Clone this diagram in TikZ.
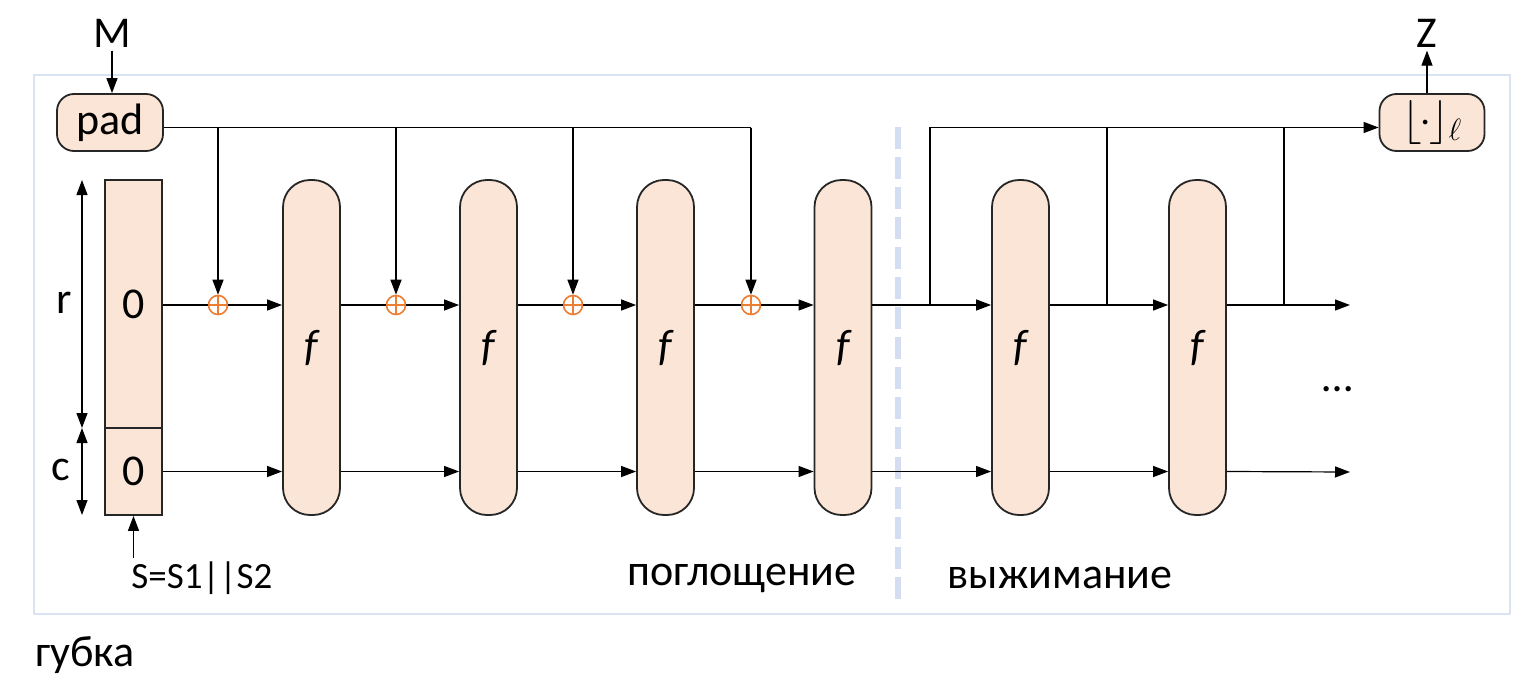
\RequirePackage{fix-cm}
\documentclass[tikz,border=0pt]{standalone}
\usepackage{fontspec}
\setmainfont{Carlito}
\usetikzlibrary{arrows.meta,calc}
\definecolor{fillc}{HTML}{FBE5D6}
\definecolor{framec}{HTML}{DAE3F3}
\definecolor{dashc}{HTML}{D5DDF0}
\definecolor{xorc}{HTML}{ED7D31}
\begin{document}
\begin{tikzpicture}[x=1pt,y=-1pt, font=\fontsize{44}{50}\selectfont,
  box/.style={draw=black!85, line width=1.8pt, fill=fillc},
  fbox/.style={box, rounded corners=27pt, minimum width=57pt, minimum height=335pt, inner sep=0pt, font=\fontsize{44}{50}\selectfont\itshape},
  smallbox/.style={box, rounded corners=17pt, minimum height=57pt, inner sep=0pt},
  arr/.style={-{Triangle[length=15pt,width=11pt]}, line width=1.2pt},
  dimarr/.style={{Triangle[length=15pt,width=11pt]}-{Triangle[length=15pt,width=11pt]}, line width=1.2pt},
  ln/.style={line width=1.2pt},
  xor/.style={circle, draw=xorc, line width=1.6pt, minimum size=19pt, inner sep=0pt,
    path picture={\draw[xorc, line width=1.1pt] (path picture bounding box.north) -- (path picture bounding box.south) (path picture bounding box.west) -- (path picture bounding box.east);}}]
\path[use as bounding box] (0,0) rectangle (1534,696);
\draw[framec, line width=2pt] (34,75) rectangle (1510,614);
\draw[dashc, line width=6pt, dash pattern=on 22pt off 8pt] (898,127) -- (898,600);

% top nodes
\node (M) at (112,33) {M};
\node (Z) at (1427,33) {Z};
\node[smallbox, minimum width=106pt] (pad) at (110,122.5) {pad};
\node[smallbox, minimum width=105pt] (tr) at (1432,122.5) {$\lfloor\mkern-1mu\cdot\mkern-1mu\rfloor_{\ell}$};
\coordinate (pe) at ($(pad.east)+(0,5)$);

% state
\node[box, minimum width=57pt, minimum height=248pt, inner sep=0pt] (sr) at (133.5,304) {0};
\node[box, minimum width=57pt, minimum height=87pt, inner sep=0pt] (sc) at (133.5,471.5) {0};
\node (r) at (64,303) {r};
\node (c) at (61,470) {c};
\coordinate (d1) at (82,180);
\coordinate (d2) at (82,428);
\coordinate (d3) at (82,515);
\draw[dimarr] (d1) -- (d2);
\draw[dimarr] (d2) -- (d3);
\node[font=\fontsize{37}{42}\selectfont] (S) at (202,578) {S=S1||S2};
\draw[arr] (sc.south |- S.north) -- (sc.south);

% f boxes
\foreach \i/\x in {1/311.5,2/488.5,3/665.5,4/843,5/1020.5,6/1197.5}
  \node[fbox] (f\i) at (\x,347.5) {f};

% xor
\foreach \i/\x in {1/218,2/396,3/573,4/751}
  \node[xor] (c\i) at (\x,305) {};

% absorbing top row
\draw[ln] (sr.east |- c1) -- (c1.west);
\draw[ln] (f1.east |- c2) -- (c2.west);
\draw[ln] (f2.east |- c3) -- (c3.west);
\draw[ln] (f3.east |- c4) -- (c4.west);
\draw[arr] (c1.east) -- (c1 -| f1.west);
\draw[arr] (c2.east) -- (c2 -| f2.west);
\draw[arr] (c3.east) -- (c3 -| f3.west);
\draw[arr] (c4.east) -- (c4 -| f4.west);
\draw[ln] (pe) -- (pe -| c4);
\foreach \i in {1,2,3,4}
  \draw[arr] (c\i |- pe) -- (c\i.north);

% squeezing top row
\coordinate (s1) at (930,305);
\coordinate (s2) at (1107,305);
\coordinate (s3) at (1284,305);
\coordinate (e1) at (1350,305);
\coordinate (e2) at (1350,472);
\draw[arr] (f4.east |- c1) -- (c1 -| f5.west);
\draw[arr] (f5.east |- c1) -- (c1 -| f6.west);
\draw[arr] (f6.east |- c1) -- (e1);
\draw[arr] (s1) -- (s1 |- pe) -- (tr.west |- pe);
\draw[ln] (s2) -- (s2 |- pe);
\draw[ln] (s3) -- (s3 |- pe);
\draw[arr] (tr.north -| Z) -- (Z.south);
\draw[arr] (M.south) -- (M.south |- pad.north);

% bottom row
\draw[arr] (sc.east) -- (sc.east -| f1.west);
\draw[arr] (f1.east |- sc.east) -- (sc.east -| f2.west);
\draw[arr] (f2.east |- sc.east) -- (sc.east -| f3.west);
\draw[arr] (f3.east |- sc.east) -- (sc.east -| f4.west);
\draw[arr] (f4.east |- sc.east) -- (sc.east -| f5.west);
\draw[arr] (f5.east |- sc.east) -- (sc.east -| f6.west);
\draw[arr] (f6.east |- sc.east) -- (e2);

% labels
\node (dots) at (1338,389) {…};
\node (abs) at (742,578) {поглощение};
\node (sq) at (1060,578) {выжимание};
\node (sp) at (85,655) {губка};
\end{tikzpicture}
\end{document}
